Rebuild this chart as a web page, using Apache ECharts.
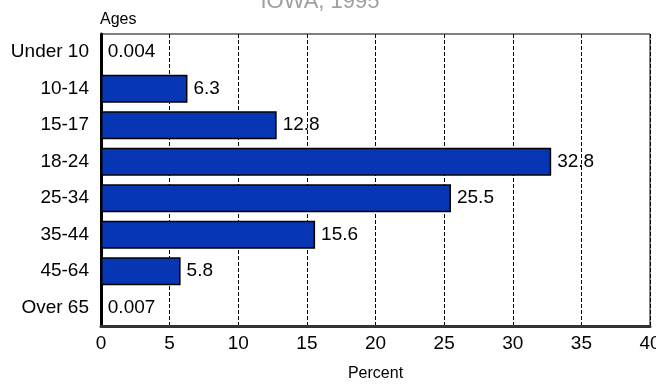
<!DOCTYPE html>
<html>
<head>
<meta charset="utf-8">
<script src="https://cdn.jsdelivr.net/npm/echarts@6/dist/echarts.min.js"></script>
<style>
  html, body { margin: 0; padding: 0; background: #fff; }
  #chart { width: 656px; height: 384px; }
</style>
</head>
<body>
<div id="chart"></div>
<script>
// age groups, top to bottom
var ageGroups = ['Under 10', '10-14', '15-17', '18-24', '25-34', '35-44', '45-64', 'Over 65'];
var percents = [0.004, 6.3, 12.8, 32.8, 25.5, 15.6, 5.8, 0.007];
var percentTicks = [0, 5, 10, 15, 20, 25, 30, 35, 40];

var myChart = echarts.init(document.getElementById('chart'));

var option = {
    animation: false,
    textStyle: { fontFamily: 'Liberation Sans, Arial, sans-serif' },
    title: {
        text: 'IOWA, 1995',
        left: 315,
        textAlign: 'center',
        top: -14,
        textStyle: { color: '#a0a0a0', fontSize: 22, fontWeight: 'normal', fontFamily: 'Liberation Sans, Arial, sans-serif' }
    },
    grid: {
        left: 101, right: 6, top: 34, bottom: 58,
        outerBoundsMode: 'none',
        containLabel: false,
        show: true,
        borderColor: '#000',
        borderWidth: 1,
        backgroundColor: '#fff'
    },
    xAxis: {
        type: 'value',
        min: 0, max: 40, interval: 5,
        name: 'Percent',
        nameLocation: 'middle',
        nameGap: 40,
        nameTextStyle: { color: '#000', fontSize: 16 },
        axisLine: { show: true, lineStyle: { color: '#333', width: 3 } },
        axisTick: { show: false },
        axisLabel: {
            color: '#000', fontSize: 19, margin: 8,
            formatter: function (v) { return percentTicks.indexOf(v) >= 0 ? String(v) : ''; }
        },
        splitLine: { show: true, lineStyle: { color: '#000', type: [4, 2], width: 1 } }
    },
    yAxis: {
        type: 'category',
        data: ageGroups,
        inverse: true,
        name: 'Ages',
        nameLocation: 'start',
        nameGap: 6,
        nameTextStyle: { color: '#000', fontSize: 16, align: 'left', padding: [0, 0, 0, -1] },
        axisLine: { show: true, lineStyle: { color: '#000', width: 3 } },
        axisTick: { show: false },
        axisLabel: { color: '#000', fontSize: 19, margin: 12 }
    },
    series: [{
        type: 'bar',
        data: percents,
        barWidth: 28,
        itemStyle: { color: '#0636b4', borderColor: '#000', borderWidth: 1.5 },
        label: {
            show: true,
            position: 'right',
            distance: 6,
            color: '#000',
            fontSize: 19,
            formatter: function (p) { return String(p.value); }
        }
    }]
};

myChart.setOption(option);
</script>
</body>
</html>
